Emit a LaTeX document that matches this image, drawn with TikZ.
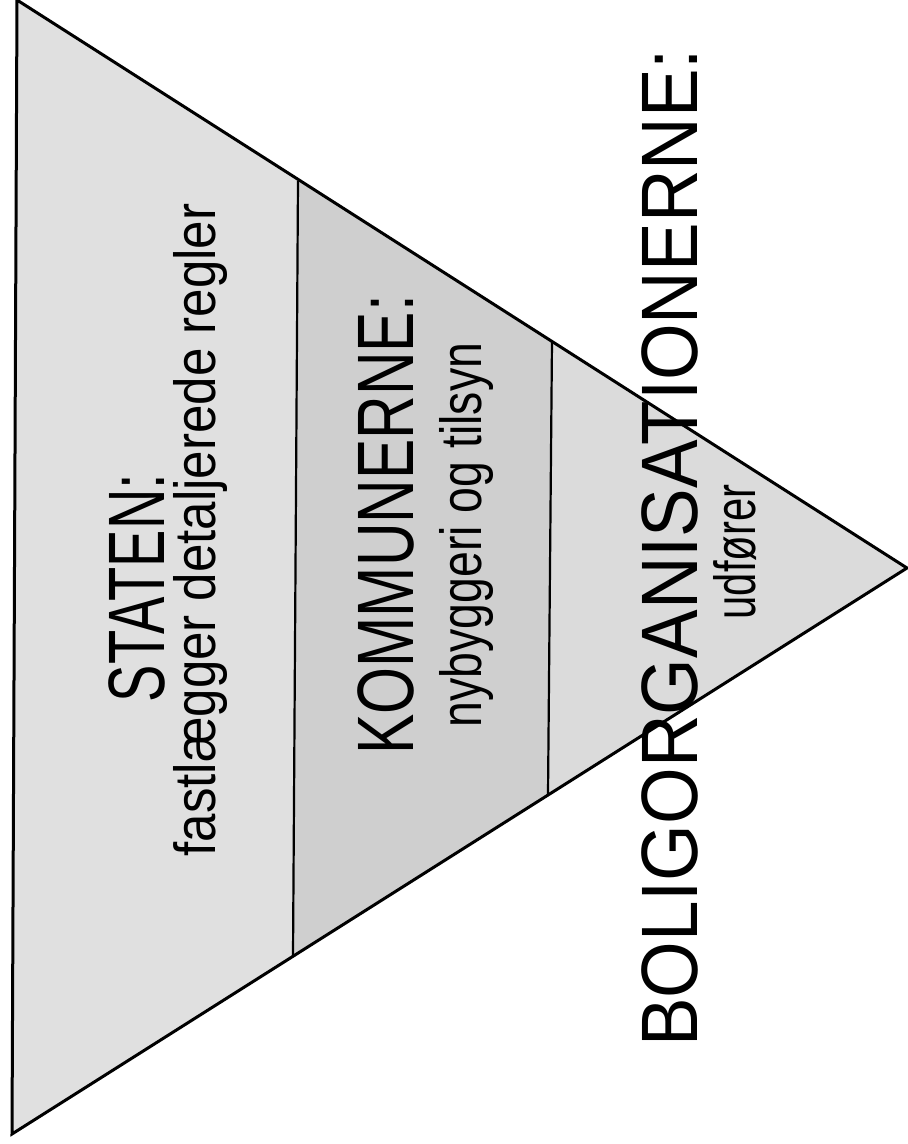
\documentclass[tikz,border=0pt]{standalone}
\usepackage{fontspec}
\setmainfont{Liberation Sans}
\begin{document}
\begin{tikzpicture}[x=1pt,y=-1pt,
  outline/.style={draw=black,line width=3pt,line join=miter},
  divider/.style={draw=black,line width=2.2pt},
  sec1/.style={fill=black!12},
  sec2/.style={fill=black!19},
  sec3/.style={fill=black!14},
  head/.style={rotate=90,inner sep=0pt,font=\fontsize{80}{80}\selectfont},
  sub/.style={rotate=90,inner sep=0pt,font=\fontsize{58}{58}\selectfont}]
\useasboundingbox (0,0) rectangle (908,1144);
\fill[white] (0,0) rectangle (908,1144);
\coordinate (tl) at (17,0);
\coordinate (apex) at (907,568);
\coordinate (bl) at (12,1134);
\coordinate (d1t) at (298,181);
\coordinate (d1b) at (293,956);
\coordinate (d2t) at (552,341);
\coordinate (d2b) at (548,795);
\fill[sec1] (tl)--(d1t)--(d1b)--(bl)--cycle;
\fill[sec2] (d1t)--(d2t)--(d2b)--(d1b)--cycle;
\fill[sec3] (d2t)--(apex)--(d2b)--cycle;
\draw[divider] (d1t)--(d1b);
\draw[divider] (d2t)--(d2b);
\draw[outline] (tl)--(apex)--(bl)--cycle;
\node[head] (staten) at (137,588) {\scalebox{0.70}[1]{STATEN:}};
\node[sub] (statensub) at (201,530) {\scalebox{0.88}[1]{fastlægger detaljerede regler}};
\node[head] (kommune) at (386,525) {\scalebox{0.755}[1]{KOMMUNERNE:}};
\node[sub] (kommunesub) at (466,535) {\scalebox{0.80}[1]{nybyggeri og tilsyn}};
\node[head] (bolig) at (670,548) {\scalebox{0.91}[1]{BOLIGORGANISATIONERNE:}};
\node[sub] (boligsub) at (735,552) {\scalebox{0.72}[1]{udfører}};
\end{tikzpicture}
\end{document}
